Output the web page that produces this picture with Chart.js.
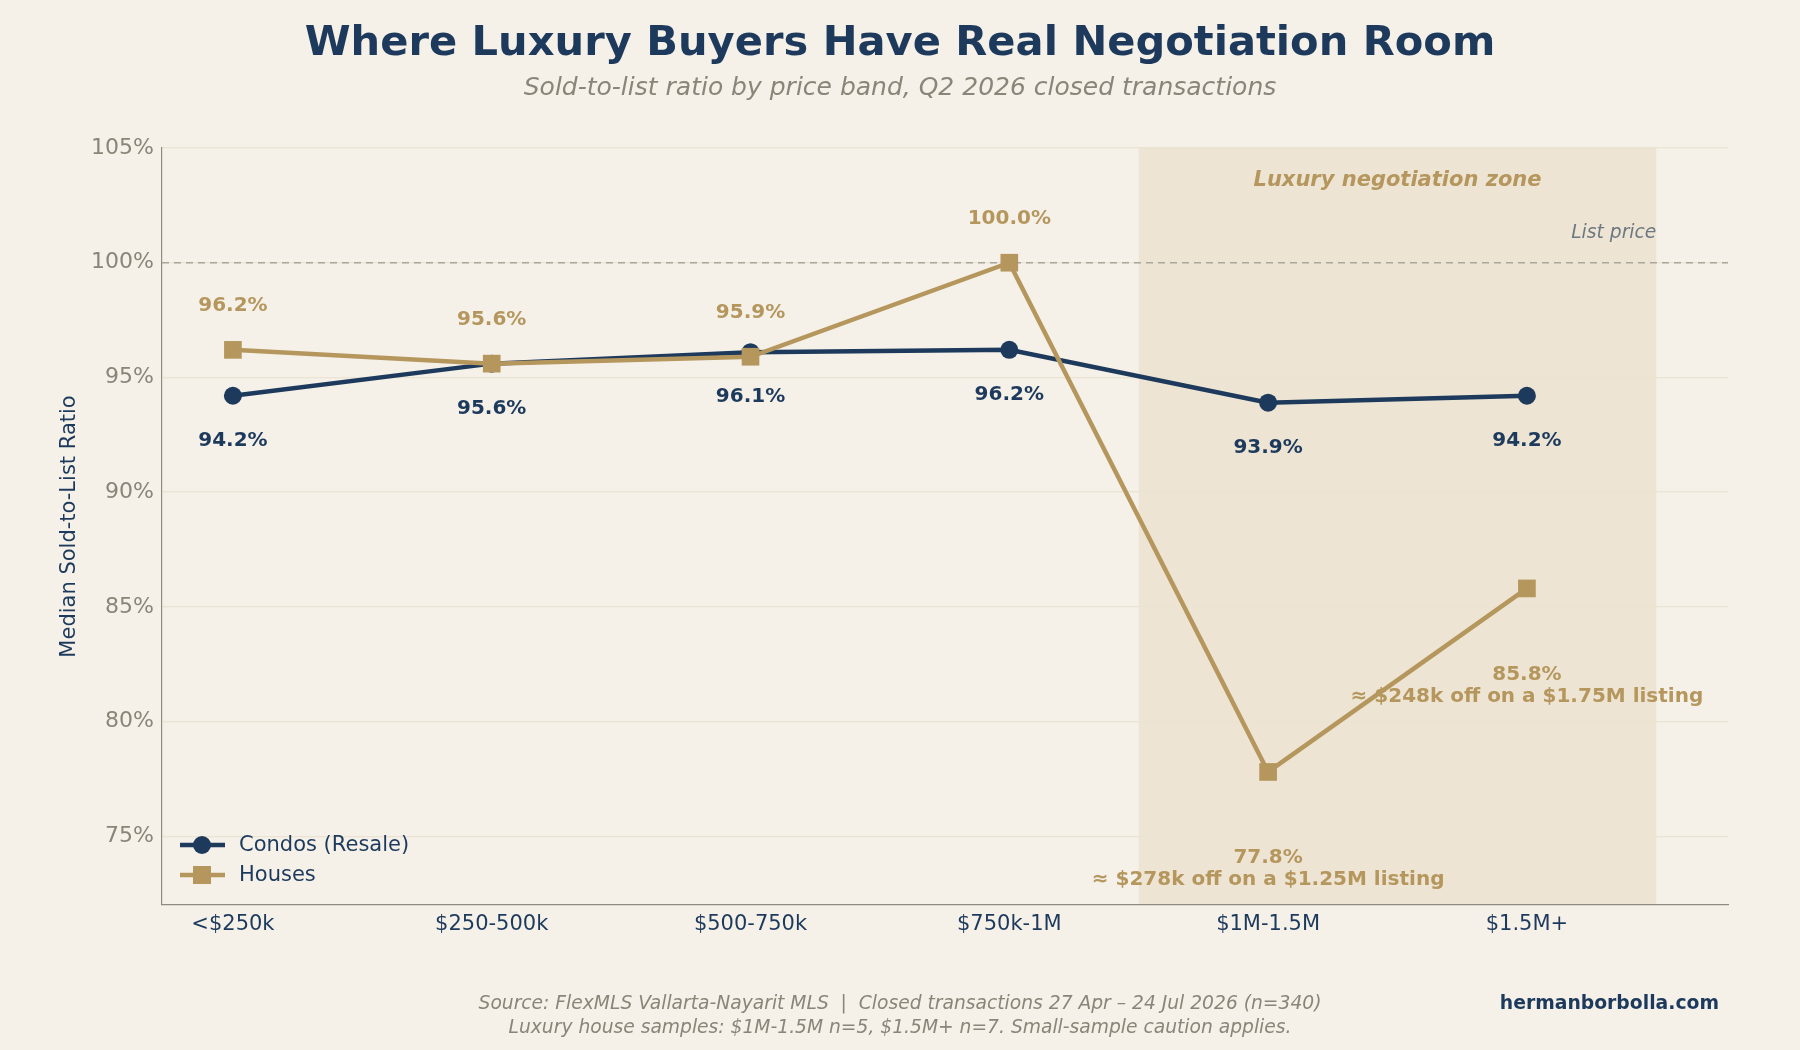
<!DOCTYPE html>
<html>
<head>
<meta charset="utf-8">
<script src="https://cdn.jsdelivr.net/npm/chart.js@4.4.1/dist/chart.umd.min.js"></script>
<style>
  html, body { margin: 0; padding: 0; background: #f5f1e9; }
  #wrap { width: 1800px; height: 1050px; }
</style>
</head>
<body>
<div id="wrap"><canvas id="c" width="1800" height="1050"></canvas></div>
<script>
// ---- Data ----
const categories = ['<$250k', '$250-500k', '$500-750k', '$750k-1M', '$1M-1.5M', '$1.5M+'];
const condos = [94.2, 95.6, 96.1, 96.2, 93.9, 94.2];
const houses = [96.2, 95.6, 95.9, 100.0, 77.8, 85.8];
const yTickValues = [75, 80, 85, 90, 95, 100, 105];
const listPrice = 100;
const zoneRange = [3.5, 5.5];
const houseNotes = ['', '', '', '', '≈ $278k off on a $1.25M listing', '≈ $248k off on a $1.75M listing'];

const titleText = 'Where Luxury Buyers Have Real Negotiation Room';
const subtitleText = 'Sold-to-list ratio by price band, Q2 2026 closed transactions';
const yTitle = 'Median Sold-to-List Ratio';
const zoneLabel = 'Luxury negotiation zone';
const listLabel = 'List price';
const footer1 = 'Source: FlexMLS Vallarta-Nayarit MLS  |  Closed transactions 27 Apr – 24 Jul 2026 (n=340)';
const footer2 = 'Luxury house samples: $1M-1.5M n=5, $1.5M+ n=7. Small-sample caution applies.';
const brand = 'hermanborbolla.com';

// ---- Style ----
const BG = '#f5f1e9';
const ZONE = '#ede4d3';
const NAVY = '#1d3a5c';
const GOLD = '#b5975e';
const GRAY = '#8a8578';
const GRID = '#ebe4d3';
const FONT = '"DejaVu Sans", sans-serif';

const toPts = arr => arr.map((v, i) => ({ x: i, y: v }));

const drawPlugin = {
  id: 'custom',
  beforeDraw(chart) {
    const { ctx, chartArea: a, scales: { x } } = chart;
    ctx.save();
    ctx.fillStyle = BG;
    ctx.fillRect(0, 0, chart.width, chart.height);
    const x0 = x.getPixelForValue(zoneRange[0]);
    const x1 = x.getPixelForValue(zoneRange[1]);
    ctx.fillStyle = ZONE;
    ctx.fillRect(x0, a.top, x1 - x0, a.bottom - a.top);
    ctx.restore();
  },
  beforeDatasetsDraw(chart) {
    const { ctx, chartArea: a, scales: { y } } = chart;
    const py = y.getPixelForValue(listPrice);
    ctx.save();
    ctx.strokeStyle = '#a9a69c';
    ctx.lineWidth = 1.6;
    ctx.setLineDash([7, 5]);
    ctx.beginPath();
    ctx.moveTo(a.left, py);
    ctx.lineTo(a.right, py);
    ctx.stroke();
    ctx.restore();
  },
  afterDatasetsDraw(chart) {
    const { ctx, scales: { x, y } } = chart;
    ctx.save();
    ctx.textAlign = 'center';
    ctx.textBaseline = 'middle';
    ctx.font = 'bold 20px ' + FONT;
    // condos labels below
    ctx.fillStyle = NAVY;
    condos.forEach((v, i) => {
      ctx.fillText(v.toFixed(1) + '%', x.getPixelForValue(i), y.getPixelForValue(v) + 45);
    });
    // houses labels
    ctx.fillStyle = GOLD;
    houses.forEach((v, i) => {
      const px = x.getPixelForValue(i), py = y.getPixelForValue(v);
      if (houseNotes[i]) {
        ctx.fillText(v.toFixed(1) + '%', px, py + 86);
        ctx.fillText(houseNotes[i], px, py + 108);
      } else {
        ctx.fillText(v.toFixed(1) + '%', px, py - 44);
      }
    });
    ctx.restore();
  },
  afterDraw(chart) {
    const { ctx, chartArea: a, scales: { x, y } } = chart;
    ctx.save();
    ctx.textAlign = 'center';
    ctx.textBaseline = 'middle';
    // title
    ctx.fillStyle = NAVY;
    ctx.font = 'bold 41.6px ' + FONT;
    ctx.fillText(titleText, 900, 44);
    ctx.fillStyle = GRAY;
    ctx.font = 'italic 25px ' + FONT;
    ctx.fillText(subtitleText, 900, 88);
    // zone label
    ctx.fillStyle = GOLD;
    ctx.font = 'bold italic 21px ' + FONT;
    ctx.fillText(zoneLabel, x.getPixelForValue((zoneRange[0] + zoneRange[1]) / 2), 181);
    // list price label
    ctx.fillStyle = '#6e7883';
    ctx.font = 'italic 18.7px ' + FONT;
    ctx.textAlign = 'right';
    ctx.fillText(listLabel, x.getPixelForValue(zoneRange[1]), y.getPixelForValue(listPrice) - 30);
    // y axis title
    ctx.save();
    ctx.translate(70, (a.top + a.bottom) / 2);
    ctx.rotate(-Math.PI / 2);
    ctx.textAlign = 'center';
    ctx.fillStyle = NAVY;
    ctx.font = '21px ' + FONT;
    ctx.fillText(yTitle, 0, 0);
    ctx.restore();
    // legend
    const items = chart.data.datasets.map(d => d);
    items.forEach((d, k) => {
      const ly = 845 + k * 30;
      ctx.strokeStyle = d.borderColor;
      ctx.lineWidth = 4.5;
      ctx.setLineDash([]);
      ctx.beginPath();
      ctx.moveTo(180, ly);
      ctx.lineTo(225, ly);
      ctx.stroke();
      ctx.fillStyle = d.backgroundColor;
      if (d.pointStyle === 'circle') {
        ctx.beginPath();
        ctx.arc(202, ly, 9, 0, Math.PI * 2);
        ctx.fill();
      } else {
        ctx.fillRect(202 - 9, ly - 9, 18, 18);
      }
      ctx.fillStyle = NAVY;
      ctx.font = '21px ' + FONT;
      ctx.textAlign = 'left';
      ctx.fillText(d.label, 239, ly + 1);
    });
    // footer
    ctx.textAlign = 'center';
    ctx.fillStyle = GRAY;
    ctx.font = 'italic 18.7px ' + FONT;
    ctx.fillText(footer1, 900, 1004);
    ctx.fillText(footer2, 900, 1028);
    ctx.textAlign = 'right';
    ctx.fillStyle = NAVY;
    ctx.font = 'bold 18.8px ' + FONT;
    ctx.fillText(brand, 1719, 1004);
    ctx.restore();
  }
};

new Chart(document.getElementById('c'), {
  type: 'line',
  data: {
    datasets: [
      {
        label: 'Condos (Resale)',
        data: toPts(condos),
        borderColor: NAVY,
        backgroundColor: NAVY,
        borderWidth: 4.5,
        pointStyle: 'circle',
        pointRadius: 9,
        pointHoverRadius: 9,
        pointBorderWidth: 0,
        tension: 0,
        order: 1
      },
      {
        label: 'Houses',
        data: toPts(houses),
        borderColor: GOLD,
        backgroundColor: GOLD,
        borderWidth: 4.5,
        pointStyle: 'rect',
        pointRadius: 12.5,
        pointHoverRadius: 12.5,
        pointBorderWidth: 0,
        tension: 0,
        order: 0
      }
    ]
  },
  options: {
    responsive: false,
    animation: false,
    devicePixelRatio: 1,
    layout: { padding: { top: 148, right: 72, left: 0, bottom: 0 } },
    plugins: { legend: { display: false }, tooltip: { enabled: false }, title: { display: false } },
    scales: {
      x: {
        type: 'linear',
        min: -0.274,
        max: 5.777,
        afterFit: s => { s.height = 145; },
        afterBuildTicks: s => { s.ticks = categories.map((c, i) => ({ value: i })); },
        ticks: {
          callback: v => categories[v] ?? '',
          color: NAVY,
          font: { family: FONT, size: 21 },
          padding: 7,
          maxRotation: 0,
          autoSkip: false
        },
        grid: { display: false, drawTicks: false },
        border: { display: true, color: '#8f8b80', width: 1.2 }
      },
      y: {
        type: 'linear',
        min: 72,
        max: 105,
        afterFit: s => { s.width = 162; },
        afterBuildTicks: s => { s.ticks = yTickValues.map(v => ({ value: v })); },
        ticks: {
          callback: v => v + '%',
          color: GRAY,
          font: { family: FONT, size: 22 },
          padding: 8
        },
        grid: { color: GRID, lineWidth: 1.3, drawTicks: false, tickLength: 0 },
        border: { display: true, color: '#8f8b80', width: 1.2 }
      }
    }
  },
  plugins: [drawPlugin]
});
</script>
</body>
</html>
